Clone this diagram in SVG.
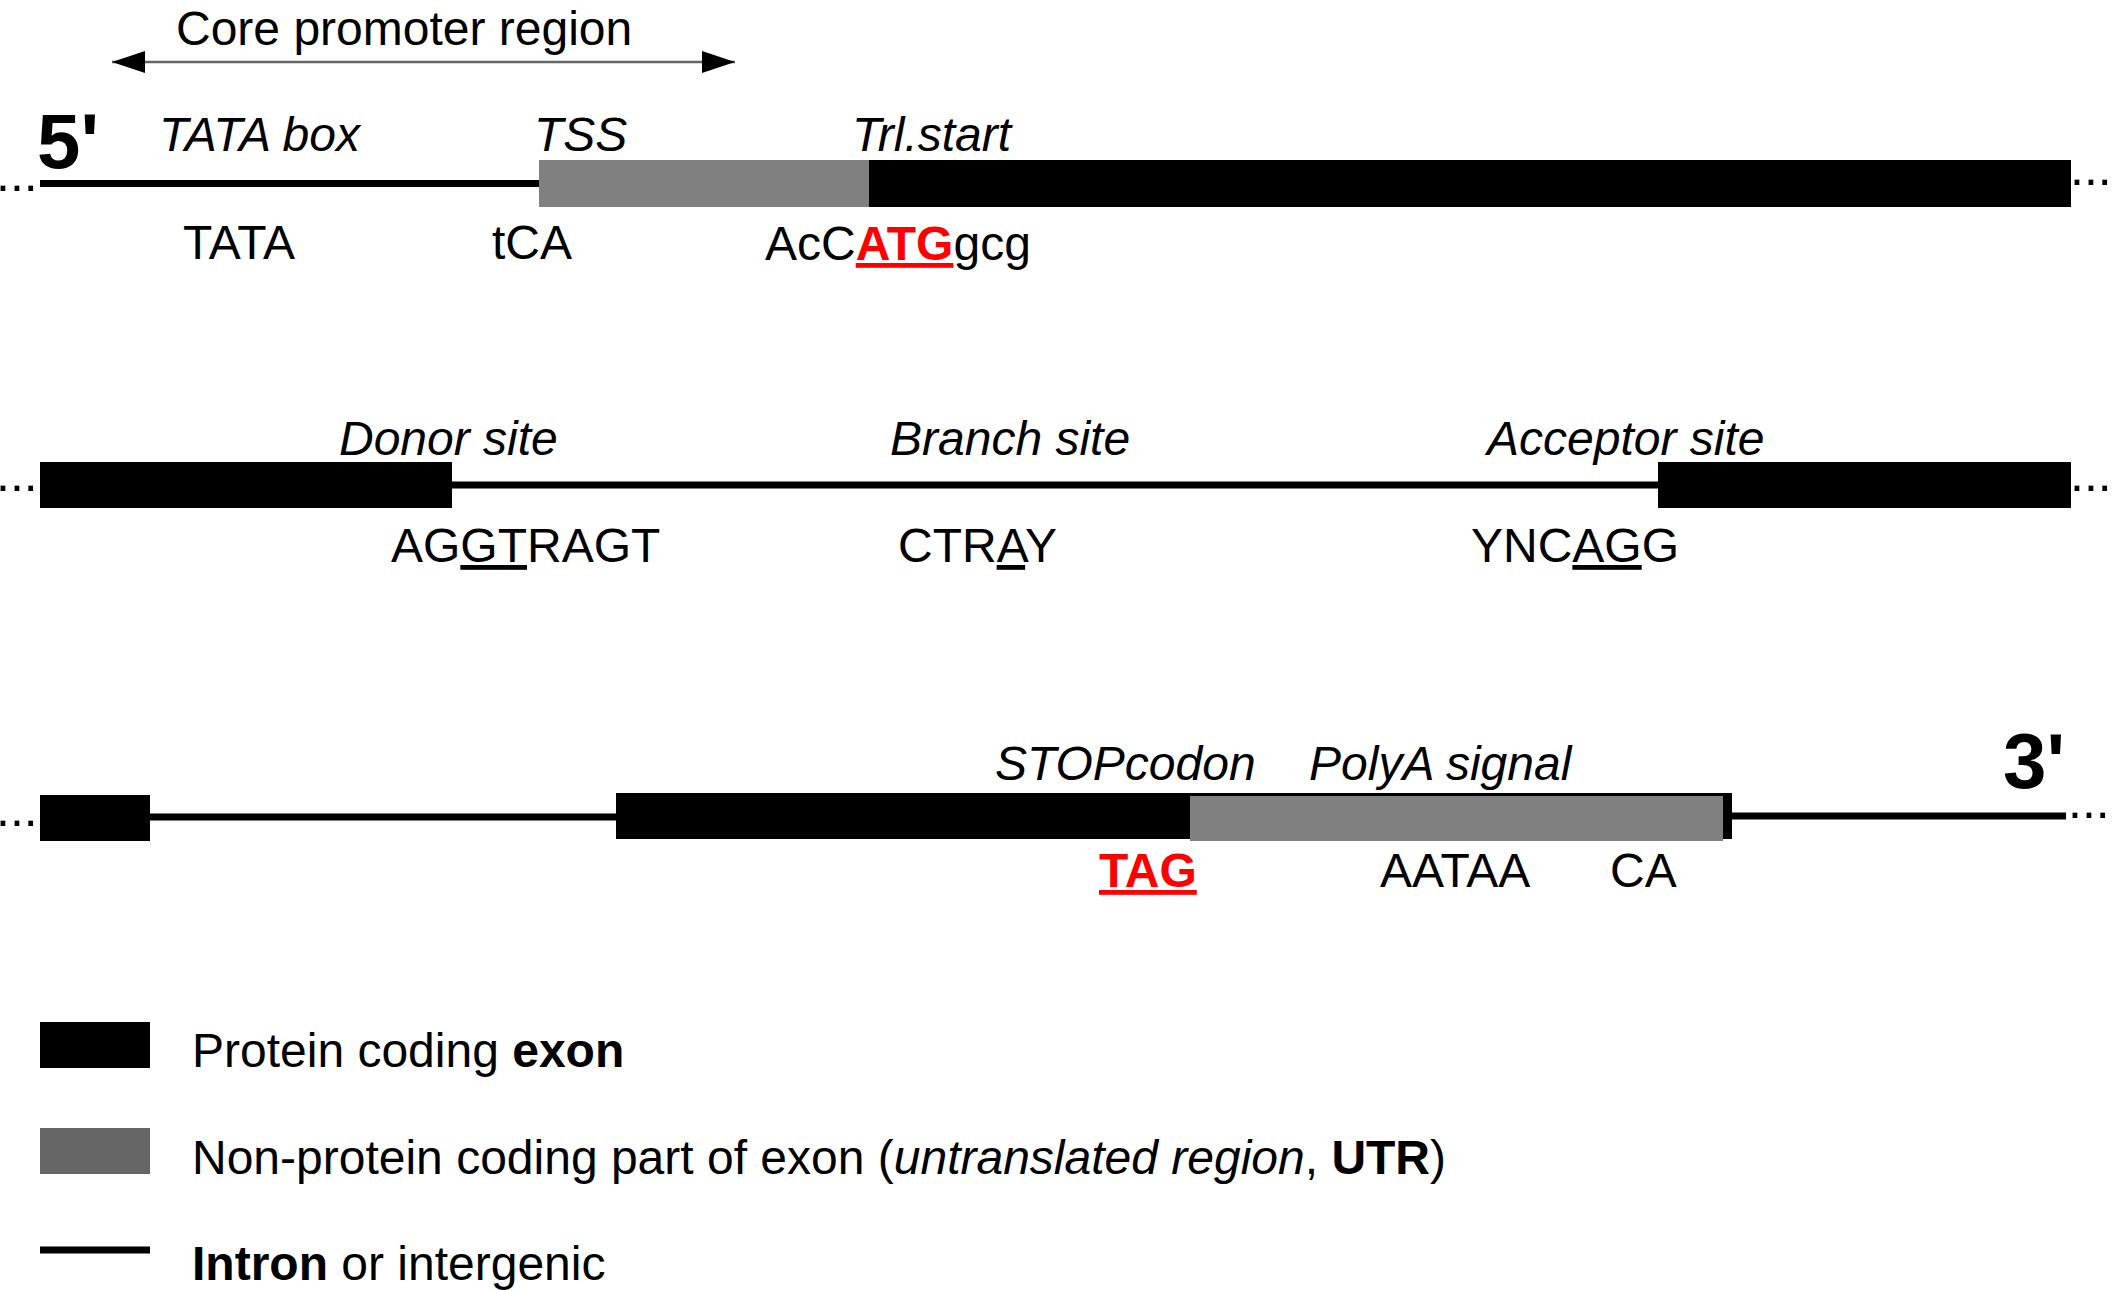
<svg xmlns="http://www.w3.org/2000/svg" width="2112" height="1290" viewBox="0 0 2112 1290">
  <style>
    text { font-family: "Liberation Sans", Arial, sans-serif; font-size: 48px; fill: #000; }
    .lbl { font-style: italic; }
    .end { font-size: 78px; font-weight: bold; }
    .dots { font-size: 50px; }
    .b { font-weight: bold; }
    .i { font-style: italic; }
    .red { fill: #ff0000; font-weight: bold; text-decoration: underline; }
    .ul { text-decoration: underline; }
    .cds { fill: #000; }
    .utr { fill: #808080; }
    .intron { stroke: #000; stroke-width: 7; fill: none; }
    .span { stroke: #666; stroke-width: 2.5; fill: none; }
  </style>
  <defs>
    <marker id="head" viewBox="0 0 33 22" refX="33" refY="11" markerWidth="33" markerHeight="22" markerUnits="userSpaceOnUse" orient="auto-start-reverse">
      <path d="M0,0 L33,11 L0,22 Z" fill="#000"/>
    </marker>
  </defs>

  <rect x="0" y="0" width="2112" height="1290" fill="#fff"/>

  <!-- double-headed span over the core promoter -->
  <g id="connectors">
    <line class="span" x1="112" y1="62" x2="735" y2="62" marker-start="url(#head)" marker-end="url(#head)"/>
  </g>

  <g id="core-promoter-label">
    <text x="176" y="45">Core promoter region</text>
  </g>

  <!-- first line: 5' end, promoter, 5' UTR, start of CDS -->
  <g id="row-5prime">
    <text class="end" x="37" y="168">5'</text>
    <text class="dots" x="-4" y="191">...</text>
    <line class="intron" x1="40" y1="183.5" x2="540" y2="183.5"/>
    <rect class="utr" x="539" y="160" width="331" height="47"/>
    <rect class="cds" x="869" y="160" width="1202" height="47"/>
    <text class="dots" x="2070" y="185">...</text>
    <text class="lbl" x="159" y="151">TATA box</text>
    <text class="lbl" x="534" y="151">TSS</text>
    <text class="lbl" x="852" y="151">Trl.start</text>
    <text x="183" y="259">TATA</text>
    <text x="492" y="259">tCA</text>
    <text x="765" y="260">AcC<tspan class="red">ATG</tspan>gcg</text>
  </g>

  <!-- second line: intron with splice signals -->
  <g id="row-intron">
    <text class="dots" x="-4" y="491">...</text>
    <rect class="cds" x="40" y="462" width="412" height="46"/>
    <line class="intron" x1="450" y1="485" x2="1660" y2="485"/>
    <rect class="cds" x="1658" y="462" width="413" height="46"/>
    <text class="dots" x="2070" y="491">...</text>
    <text class="lbl" x="339" y="455">Donor site</text>
    <text class="lbl" x="890" y="455">Branch site</text>
    <text class="lbl" x="1487" y="455">Acceptor site</text>
    <text x="391" y="562">AG<tspan class="ul">GT</tspan>RAGT</text>
    <text x="898" y="562">CTR<tspan class="ul">A</tspan>Y</text>
    <text x="1471" y="562">YNC<tspan class="ul">AG</tspan>G</text>
  </g>

  <!-- third line: last exon, 3' UTR and 3' end -->
  <g id="row-3prime">
    <text class="dots" x="-4" y="826">...</text>
    <rect class="cds" x="40" y="795" width="110" height="46"/>
    <line class="intron" x1="148" y1="817" x2="618" y2="817"/>
    <rect class="cds" x="616" y="793" width="1116" height="46"/>
    <rect class="utr" x="1190" y="796" width="533" height="45"/>
    <line class="intron" x1="1730" y1="816" x2="2066" y2="816"/>
    <text class="dots" x="2068" y="818">...</text>
    <text class="end" x="2003" y="788">3'</text>
    <text class="lbl" x="995" y="780">STOPcodon</text>
    <text class="lbl" x="1309" y="780">PolyA signal</text>
    <text x="1099" y="887"><tspan class="red">TAG</tspan></text>
    <text x="1380" y="887">AATAA</text>
    <text x="1610" y="887">CA</text>
  </g>

  <!-- key -->
  <g id="legend-cds">
    <rect class="cds" x="40" y="1022" width="110" height="46"/>
    <text x="192" y="1067">Protein coding <tspan class="b">exon</tspan></text>
  </g>
  <g id="legend-utr">
    <rect x="40" y="1128" width="110" height="46" fill="#666"/>
    <text x="192" y="1174">Non-protein coding part of exon (<tspan class="i">untranslated region</tspan>, <tspan class="b">UTR</tspan>)</text>
  </g>
  <g id="legend-intron">
    <line class="intron" x1="40" y1="1250" x2="150" y2="1250"/>
    <text x="192" y="1280"><tspan class="b">Intron</tspan> or intergenic</text>
  </g>
</svg>
